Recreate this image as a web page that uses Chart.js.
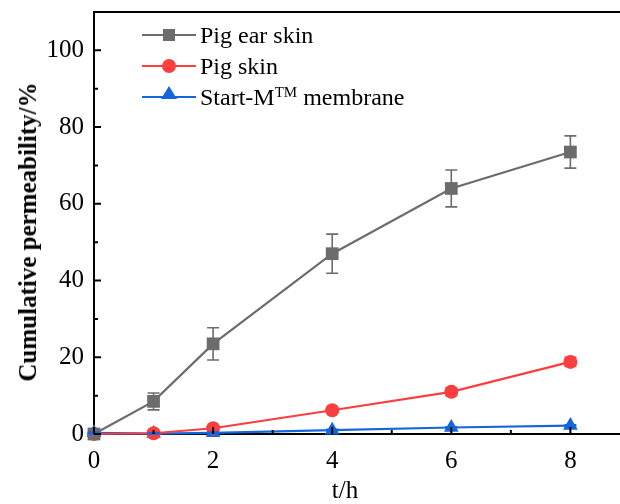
<!DOCTYPE html>
<html>
<head>
<meta charset="utf-8">
<script src="https://cdn.jsdelivr.net/npm/chart.js@4.4.1/dist/chart.umd.min.js"></script>
<style>
    html, body { margin: 0; padding: 0; background: #fff; overflow: hidden; }
    #wrap { position: relative; width: 630px; height: 504px; }
    #chart { position: absolute; left: 0; top: 0; }
    .lbl { position: absolute; font-family: "Liberation Serif", serif; color: #000; white-space: nowrap; }
    #ytitle { left: 28px; top: 232px; font-size: 25px; font-weight: bold; transform: translate(-50%, -50%) rotate(-90deg); }
    #xtitle { left: 345px; top: 490px; font-size: 25px; transform: translate(-50%, -50%); }
    #legend { position: absolute; left: 140px; top: 20px; width: 420px; font-family: "Liberation Serif", serif; font-size: 24px; }
    .row { position: relative; height: 31px; line-height: 30px; white-space: nowrap; }
    .row .ln { position: absolute; left: 2px; top: 14px; width: 54px; height: 2px; }
    .row .mk { position: absolute; }
    .row .tx { position: absolute; left: 60px; top: 0; white-space: nowrap; }
    sup { font-size: 15px; vertical-align: 8px; line-height: 0; }
</style>
</head>
<body>
<div id="wrap">
    <canvas id="chart" width="630" height="504"></canvas>
    <div id="legend"></div>
    <div class="lbl" id="ytitle">Cumulative permeability/%</div>
    <div class="lbl" id="xtitle">t/h</div>
</div>
<script>
    var hours = [0, 1, 2, 4, 6, 8];
    var pigEar = [0, 8.5, 23.5, 47, 64, 73.5];
    var pigEarErr = [0.3, 2.2, 4.2, 5.1, 4.8, 4.2];
    var pigSkin = [0, 0.2, 1.5, 6.2, 11, 18.8];
    var pigSkinErr = [0.2, 0.3, 0.3, 0.4, 1.0, 1.2];
    var startM = [0.3, 0.1, 0.3, 1.0, 1.7, 2.2];
    var startMErr = [0.2, 0.2, 0.2, 0.2, 0.2, 0.2];
    var xTicks = [0, 2, 4, 6, 8];
    var xMinor = [1, 3, 5, 7];
    var yTicks = [0, 20, 40, 60, 80, 100];
    var yMinor = [10, 30, 50, 70, 90];

    var series = [
        { label: 'Pig ear skin', html: 'Pig ear skin', data: pigEar, err: pigEarErr, color: '#6c6c6c', style: 'rect', radius: 9 },
        { label: 'Pig skin', html: 'Pig skin', data: pigSkin, err: pigSkinErr, color: '#fb3e3e', style: 'circle', radius: 7 },
        { label: 'Start-M membrane', html: 'Start-M<sup>TM</sup> membrane', data: startM, err: startMErr, color: '#1466dc', style: 'triangle', radius: 8.5 }
    ];

    function points(vals) {
        return hours.map(function(h, i) { return { x: h, y: vals[i] }; });
    }

    // error bars and inward ticks, drawn from the chart's scales
    var extras = {
        id: 'extras',
        afterDatasetsDraw: function(chart) {
            var ctx = chart.ctx;
            var xs = chart.scales.x, ys = chart.scales.y;
            ctx.save();
            series.forEach(function(s) {
                ctx.strokeStyle = s.color;
                ctx.lineWidth = 1.6;
                s.data.forEach(function(v, i) {
                    var px = xs.getPixelForValue(hours[i]);
                    var top = ys.getPixelForValue(v + s.err[i]);
                    var bot = ys.getPixelForValue(Math.max(0, v - s.err[i]));
                    ctx.beginPath();
                    ctx.moveTo(px, top); ctx.lineTo(px, bot);
                    ctx.moveTo(px - 6, top); ctx.lineTo(px + 6, top);
                    ctx.moveTo(px - 6, bot); ctx.lineTo(px + 6, bot);
                    ctx.stroke();
                });
            });
            ctx.restore();
        },
        afterDraw: function(chart) {
            var ctx = chart.ctx;
            var a = chart.chartArea;
            var xs = chart.scales.x, ys = chart.scales.y;
            ctx.save();
            ctx.strokeStyle = '#000';
            ctx.lineWidth = 2;
            ctx.beginPath();
            ctx.moveTo(a.left, a.top); ctx.lineTo(a.right + 20, a.top);
            xTicks.forEach(function(v) { var p = xs.getPixelForValue(v); ctx.moveTo(p, a.bottom); ctx.lineTo(p, a.bottom - 7); });
            xMinor.forEach(function(v) { var p = xs.getPixelForValue(v); ctx.moveTo(p, a.bottom); ctx.lineTo(p, a.bottom - 4); });
            yTicks.forEach(function(v) { var p = ys.getPixelForValue(v); ctx.moveTo(a.left, p); ctx.lineTo(a.left + 7, p); });
            yMinor.forEach(function(v) { var p = ys.getPixelForValue(v); ctx.moveTo(a.left, p); ctx.lineTo(a.left + 4, p); });
            ctx.stroke();
            ctx.restore();
        }
    };

    new Chart(document.getElementById('chart'), {
        type: 'line',
        data: {
            datasets: series.map(function(s) {
                return {
                    label: s.label,
                    data: points(s.data),
                    borderColor: s.color,
                    backgroundColor: s.color,
                    borderWidth: 2.2,
                    pointStyle: s.style,
                    pointRadius: s.radius,
                    pointBorderWidth: 0,
                    tension: 0,
                    clip: false
                };
            })
        },
        options: {
            responsive: false,
            animation: false,
            layout: { padding: { top: 12, left: 0, right: 0, bottom: 0 } },
            plugins: { legend: { display: false }, tooltip: { enabled: false } },
            scales: {
                x: {
                    type: 'linear',
                    min: 0,
                    max: 8.85,
                    afterBuildTicks: function(scale) { scale.ticks = xTicks.map(function(v) { return { value: v }; }); },
                    afterFit: function(scale) { scale.height = 70; scale.paddingLeft = 0; scale.paddingRight = 0; },
                    grid: { display: false, drawTicks: false },
                    border: { display: true, color: '#000', width: 2 },
                    ticks: { color: '#000', padding: 12, maxRotation: 0, font: { family: 'Liberation Serif', size: 25 } }
                },
                y: {
                    min: 0,
                    max: 110,
                    afterBuildTicks: function(scale) { scale.ticks = yTicks.map(function(v) { return { value: v }; }); },
                    afterFit: function(scale) { scale.width = 94; scale.paddingTop = 0; scale.paddingBottom = 0; },
                    grid: { display: false, drawTicks: false },
                    border: { display: true, color: '#000', width: 2 },
                    ticks: { color: '#000', padding: 10, font: { family: 'Liberation Serif', size: 25 } }
                }
            }
        },
        plugins: [extras]
    });

    // legend with the superscript kept as text
    var legend = document.getElementById('legend');
    series.forEach(function(s) {
        var row = document.createElement('div');
        row.className = 'row';
        var mk;
        if (s.style === 'rect') {
            mk = '<span class="mk" style="left:23px;top:9px;width:12px;height:12px;background:' + s.color + '"></span>';
        } else if (s.style === 'circle') {
            mk = '<span class="mk" style="left:22px;top:8px;width:14px;height:14px;border-radius:50%;background:' + s.color + '"></span>';
        } else {
            mk = '<span class="mk" style="left:21px;top:4px;width:0;height:0;border-left:8px solid transparent;border-right:8px solid transparent;border-bottom:13px solid ' + s.color + '"></span>';
        }
        row.innerHTML = '<span class="ln" style="background:' + s.color + '"></span>' + mk + '<span class="tx">' + s.html + '</span>';
        legend.appendChild(row);
    });
</script>
</body>
</html>
